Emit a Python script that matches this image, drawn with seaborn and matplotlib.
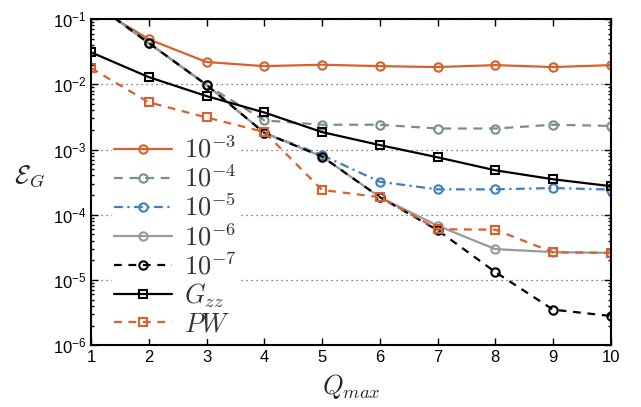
#!/usr/bin/env python3
# Error E_G vs Q_max for several tolerances, plus G_zz and PW reference curves

import matplotlib
matplotlib.use('Agg')
import matplotlib.pyplot as plt
from matplotlib.font_manager import FontProperties
from matplotlib.ticker import LogLocator, FixedLocator
import numpy as np
import pandas as pd
import seaborn as sns

################
# Data

qmax = [1, 2, 3, 4, 5, 6, 7, 8, 9, 10]

err_1e3 = [0.17, 0.049, 0.022, 0.019, 0.020, 0.019, 0.0184, 0.0197, 0.0184, 0.0197]
err_1e4 = [0.19, 0.043, 0.0098, 0.0028, 0.0024, 0.0024, 0.0021, 0.0021, 0.0024, 0.0023]
err_1e5 = [0.19, 0.043, 0.0098, 0.0018, 0.00082, 0.00032, 0.000245, 0.000245, 0.000257, 0.000243]
err_1e6 = [0.19, 0.043, 0.0098, 0.0018, 0.00078, 0.000186, 6.8e-5, 2.97e-5, 2.67e-5, 2.6e-5]
err_1e7 = [0.19, 0.043, 0.0098, 0.0018, 0.00078, 0.000186, 5.8e-5, 1.32e-5, 3.5e-6, 2.8e-6]
err_gzz = [0.031, 0.0129, 0.0066, 0.0037, 0.00185, 0.00117, 0.00076, 0.00048, 0.00035, 0.000274]
err_pw = [0.0177, 0.0053, 0.0031, 0.00186, 0.00024, 0.000186, 6.0e-5, 5.9e-5, 2.65e-5, 2.6e-5]

labels = [r'$10^{-3}$', r'$10^{-4}$', r'$10^{-5}$', r'$10^{-6}$', r'$10^{-7}$',
          r'$G_{zz}$', r'$PW$']
series = [err_1e3, err_1e4, err_1e5, err_1e6, err_1e7, err_gzz, err_pw]

################
# Styles

ORANGE = '#d9602c'
styles = [
  dict(color=ORANGE, ls='-', marker='o'),
  dict(color='#77908b', ls=(0, (4, 3)), marker='o'),
  dict(color='#3f7fbb', ls=(0, (4, 2, 1, 2)), marker='o'),
  dict(color='#999999', ls='-', marker='o'),
  dict(color='black', ls=(0, (3.5, 3)), marker='o'),
  dict(color='black', ls='-', marker='s'),
  dict(color=ORANGE, ls=(0, (3.5, 3)), marker='s'),
]

sns.set_style('ticks')
plt.rcParams['font.family'] = ['Liberation Sans', 'DejaVu Sans']
plt.rcParams['mathtext.fontset'] = 'cm'
plt.rcParams['axes.unicode_minus'] = True

df = pd.DataFrame({'Q': np.tile(qmax, len(series)),
                   'err': np.concatenate(series),
                   'series': np.repeat(labels, len(qmax))})

fig = plt.figure(figsize=(6.41, 4.07), dpi=100)
ax = fig.add_axes([0.142, 0.152, 0.811, 0.801])

for lab, st in zip(labels, styles):
  sub = df[df['series'] == lab]
  sns.lineplot(data=sub, x='Q', y='err', ax=ax, label=lab,
               color=st['color'], linestyle=st['ls'], marker=st['marker'],
               markersize=6 if st['marker'] == 'o' else 5.8,
               markerfacecolor='none', markeredgecolor=st['color'],
               markeredgewidth=1.5, linewidth=1.6, estimator=None,
               legend=False)

ax.set_yscale('log')
ax.set_xlim(1, 10)
ax.set_ylim(1e-6, 1e-1)
ax.xaxis.set_major_locator(FixedLocator(qmax))
ax.yaxis.set_major_locator(LogLocator(base=10, numticks=10))
ax.yaxis.set_minor_locator(LogLocator(base=10, subs=np.arange(2, 10), numticks=10))

ax.tick_params(which='both', direction='in', top=True, right=True,
               labelsize=12, width=1.0, colors='black')
ax.tick_params(which='major', length=5)
ax.tick_params(which='minor', length=2.5)
ax.tick_params(axis='x', which='minor', top=False, bottom=False)
for sp in ax.spines.values():
  sp.set_linewidth(1.5)
  sp.set_color('black')

ax.yaxis.grid(True, which='major', linestyle=(0, (1, 3)), color='#555555', linewidth=0.9)
ax.xaxis.grid(False)

ax.set_xlabel(r'$Q_{max}$', fontsize=19, labelpad=5)
ax.set_ylabel(r'$\mathcal{E}_G$', fontsize=19, rotation=0)
ax.yaxis.set_label_coords(-0.118, 0.48)

handles = ax.get_lines()[:len(labels)]
leg = ax.legend(handles, labels, loc='upper left', bbox_to_anchor=(0.174, 0.672),
                bbox_transform=fig.transFigure, prop=FontProperties(size=19),
                frameon=True, fancybox=False, facecolor='white', edgecolor='none',
                framealpha=1.0, handlelength=2.2, handletextpad=0.45,
                labelspacing=0.09, borderpad=0.1, borderaxespad=0)
for t in leg.get_texts():
  t.set_color('#333333')

fig.savefig('out.png', dpi=100)
